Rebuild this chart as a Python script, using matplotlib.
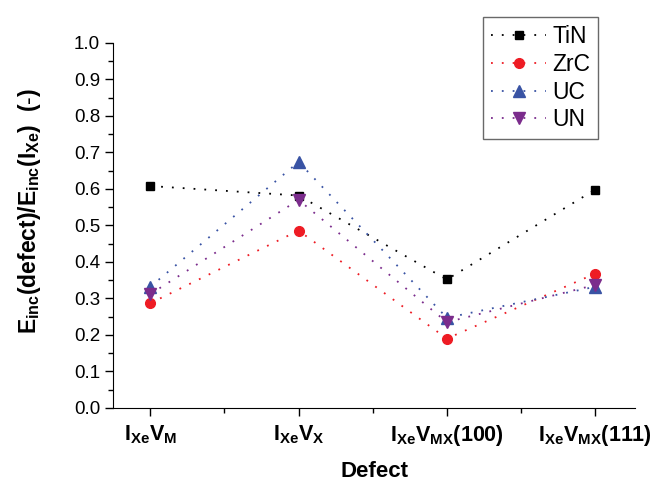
import numpy as np
import matplotlib
matplotlib.use("Agg")
import matplotlib.pyplot as plt
from matplotlib.ticker import MultipleLocator

plt.rcParams['font.family'] = ['Liberation Sans', 'DejaVu Sans']
plt.rcParams['mathtext.fontset'] = 'custom'
plt.rcParams['mathtext.rm'] = 'Liberation Sans'
plt.rcParams['mathtext.bf'] = 'Liberation Sans:bold'
plt.rcParams['mathtext.it'] = 'Liberation Sans:italic'

defects = [r'$\mathbf{I_{Xe}V_{M}}$', r'$\mathbf{I_{Xe}V_{X}}$',
           r'$\mathbf{I_{Xe}V_{MX}(100)}$', r'$\mathbf{I_{Xe}V_{MX}(111)}$']
tin = [0.608, 0.582, 0.352, 0.598]
zrc = [0.287, 0.486, 0.190, 0.368]
uc = [0.332, 0.674, 0.247, 0.332]
un = [0.312, 0.570, 0.235, 0.337]

series = [
    ("TiN", tin, "black", "s", 6),
    ("ZrC", zrc, "#ee1c24", "o", 7),
    ("UC", uc, "#3953a4", "^", 8.5),
    ("UN", un, "#7b2c8c", "v", 8.5),
]

fig = plt.figure(figsize=(6.7, 4.88), dpi=100)
ax = fig.add_axes([0.169, 0.164, 0.779, 0.748])

x = np.arange(1, len(defects) + 1)
for name, vals, col, mk, ms in series:
    ax.plot(x, vals, linestyle=(0, (1, 5)), color=col, marker=mk, markersize=ms,
            markeredgecolor=col, linewidth=1.3, label=name)

ax.set_xlim(0.75, 4.27)
ax.set_ylim(0, 1.0)
ax.set_xticks(x)
ax.set_xticklabels(defects, fontsize=15.5)
ax.xaxis.set_minor_locator(MultipleLocator(0.5))
ax.yaxis.set_major_locator(MultipleLocator(0.1))
ax.yaxis.set_minor_locator(MultipleLocator(0.05))
ax.tick_params(which='major', direction='out', length=6, width=1)
ax.tick_params(axis='y', labelsize=13.5)
ax.tick_params(which='minor', direction='out', length=3.5, width=1)
ax.tick_params(axis='x', pad=5)
for s in ['top', 'right']:
    ax.spines[s].set_visible(False)

ax.set_xlabel('Defect', fontsize=16, fontweight='bold', labelpad=9)
ax.set_ylabel(r'$\mathbf{E_{inc}(defect)/E_{inc}(I_{Xe})}$  $\mathbf{(\text{-})}$',
              fontsize=16.5)
ax.yaxis.set_label_coords(-0.135, 0.54)

leg = ax.legend(loc='upper right', fontsize=16.5, frameon=True, fancybox=False,
                edgecolor='#444444', handlelength=2.4, handletextpad=0.26,
                borderpad=0.35, labelspacing=0.2, borderaxespad=0,
                bbox_to_anchor=(0.929, 1.07))
leg.get_frame().set_linewidth(1.0)

fig.savefig('out.png', dpi=100)
